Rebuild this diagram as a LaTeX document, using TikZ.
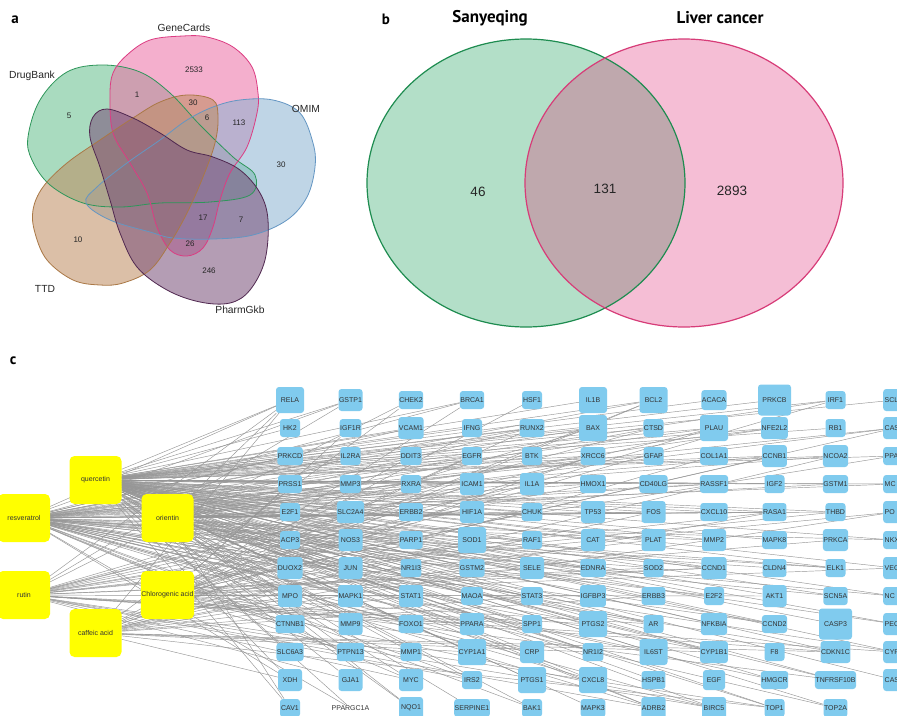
\documentclass[tikz,border=0pt]{standalone}
\usepackage{fontspec}
\setmainfont{Liberation Sans}
\newfontfamily\ptsans{PT Sans}
\usetikzlibrary{backgrounds}
\definecolor{tblue}{RGB}{128,203,238}
\definecolor{tyel}{RGB}{255,255,0}
\definecolor{tedge}{RGB}{150,150,150}
\definecolor{vaG}{RGB}{100,190,140}
\definecolor{vaP}{RGB}{235,110,165}
\definecolor{vaB}{RGB}{140,180,210}
\definecolor{vaT}{RGB}{190,140,95}
\definecolor{vaK}{RGB}{120,78,120}
\definecolor{vaGl}{RGB}{46,150,90}
\definecolor{vaPl}{RGB}{220,60,130}
\definecolor{vaBl}{RGB}{100,150,195}
\definecolor{vaTl}{RGB}{170,120,70}
\definecolor{vaKl}{RGB}{80,40,80}
\definecolor{vbG}{RGB}{179,223,200}
\definecolor{vbP}{RGB}{245,190,213}
\definecolor{vbO}{RGB}{191,168,173}
\definecolor{vbGl}{RGB}{30,140,80}
\definecolor{vbPl}{RGB}{215,60,120}
\tikzset{
  tgt/.style={rectangle, rounded corners=3pt, fill=tblue, inner sep=0.5pt,
    font=\fontsize{7}{8}\selectfont, text=black!80},
  lbl/.style={inner sep=0.5pt, font=\fontsize{7}{8}\selectfont, text=black!80},
  cmp/.style={rectangle, rounded corners=5pt, fill=tyel, minimum width=52, minimum height=48,
    inner sep=0.5pt, font=\fontsize{7}{8}\selectfont, text=black!80},
  edge/.style={draw=tedge, line width=0.45pt},
  vfill/.style={fill opacity=0.55},
  vline/.style={line width=0.8pt},
  vlab/.style={font=\fontsize{10.3}{12}\selectfont, text=black!85},
  vnum/.style={font=\fontsize{8}{9}\selectfont, text=black!85},
  panel/.style={font=\ptsans\bfseries\fontsize{15}{17}\selectfont},
  bhead/.style={font=\ptsans\bfseries\fontsize{17}{19}\selectfont},
  bnum/.style={font=\fontsize{13.5}{15}\selectfont, text=black!85},
}
\begin{document}
\begin{tikzpicture}[x=1pt,y=-1pt]
\useasboundingbox (0,0) rectangle (897,715);
\begin{pgfonlayer}{background}
\begin{scope}
\clip (0,0) rectangle (897,715);
\fill[white] (0,0) rectangle (897,715);
\end{scope}
\end{pgfonlayer}
\clip (0,0) rectangle (897,715);

% ---------------- panel a ----------------
\def\shG{plot[smooth cycle, tension=0.6] coordinates {(28,137) (40,100) (67,72) (103,65) (140,72) (170,93) (200,125) (233,157) (255,175) (250,195) (210,202) (160,203) (120,207) (83,203) (50,185) (32,160)}}
\def\shP{plot[smooth cycle, tension=0.6] coordinates {(110,97) (113,73) (127,55) (150,40) (183,36) (207,37) (233,47) (252,67) (258,93) (257,113) (247,147) (230,173) (220,200) (213,227) (203,248) (187,256) (170,250) (157,227) (147,193) (130,163) (113,133)}}
\def\shB{plot[smooth cycle, tension=0.6] coordinates {(86,203) (97,187) (127,163) (160,140) (187,120) (213,107) (240,100) (273,100) (300,113) (313,143) (315,167) (307,197) (287,220) (253,235) (213,239) (173,238) (150,232) (110,220)}}
\def\shT{plot[smooth cycle, tension=0.6] coordinates {(187,95) (213,100) (218,117) (215,143) (203,177) (187,213) (170,243) (150,270) (123,283) (100,285) (73,280) (47,260) (35,233) (33,210) (43,187) (67,163) (100,140) (133,118) (160,102)}}
\def\shK{plot[smooth cycle, tension=0.6] coordinates {(107,109) (133,118) (160,133) (187,150) (213,157) (240,170) (260,193) (268,220) (265,260) (250,290) (230,303) (200,302) (167,290) (137,267) (120,233) (110,200) (100,167) (90,137) (93,117)}}
\fill[vfill, vaG] \shG;
\fill[vfill, vaP] \shP;
\fill[vfill, vaB] \shB;
\fill[vfill, vaT] \shT;
\fill[vfill, vaK] \shK;
\draw[vline, vaGl] \shG;
\draw[vline, vaPl] \shP;
\draw[vline, vaBl] \shB;
\draw[vline, vaTl] \shT;
\draw[vline, vaKl] \shK;
\node[panel] (pa) at (15,20) {a};
\node[vlab] (la1) at (184,28) {GeneCards};
\node[vlab] (la2) at (32,76) {DrugBank};
\node[vlab] (la3) at (306,109) {OMIM};
\node[vlab] (la4) at (45,289) {TTD};
\node[vlab] (la5) at (240,310) {PharmGkb};
\node[vnum] (na1) at (194,70) {2533};
\node[vnum] (na2) at (137,95) {1};
\node[vnum] (na3) at (193,103) {30};
\node[vnum] (na4) at (207,118) {6};
\node[vnum] (na5) at (239,123) {113};
\node[vnum] (na6) at (69,116) {5};
\node[vnum] (na7) at (281,165) {30};
\node[vnum] (na8) at (203,218) {17};
\node[vnum] (na9) at (241,220) {7};
\node[vnum] (na10) at (78,240) {10};
\node[vnum] (na11) at (190,244) {26};
\node[vnum] (na12) at (209,271) {246};

% ---------------- panel b ----------------
\fill[vbG] (526,183) ellipse [x radius=159, y radius=144];
\fill[vbP] (684,183) ellipse [x radius=159, y radius=144];
\begin{scope}
\clip (526,183) ellipse [x radius=159, y radius=144];
\fill[vbO] (684,183) ellipse [x radius=159, y radius=144];
\end{scope}
\draw[vbGl, line width=1.2pt] (526,183) ellipse [x radius=159, y radius=144];
\draw[vbPl, line width=1.2pt] (684,183) ellipse [x radius=159, y radius=144];
\node[panel] (pb) at (386,19) {b};
\node[bhead] (hb1) at (490,18) {Sanyeqing};
\node[bhead] (hb2) at (720,18) {Liver cancer};
\node[bnum] (nb1) at (478,192) {46};
\node[bnum] (nb2) at (605,189) {131};
\node[bnum] (nb3) at (732,191) {2893};

% ---------------- panel c ----------------
\node[panel] (pc) at (13,361) {c};
\node[cmp] (quercetin) at (95.5,480) {quercetin};
\node[cmp] (resveratrol) at (24,518) {resveratrol};
\node[cmp] (orientin) at (167.5,518) {orientin};
\node[cmp] (rutin) at (24,595) {rutin};
\node[cmp] (chlorogenic) at (167.5,595) {Chlorogenic acid};
\node[cmp] (caffeic) at (95.5,633) {caffeic acid};

\foreach \n/\w [count=\r from 0] in {RELA/28,HK2/20,PRKCD/20,PRSS1/20,E2F1/20,ACP3/20,DUOX2/24,MPO/24,CTNNB1/20,SLC6A3/20,XDH/24,CAV1/20}
  \node[tgt, minimum width=\w, minimum height=\w-2] (t-0-\r) at (290,400+28*\r) {\n};
\foreach \n/\w [count=\r from 0] in {GSTP1/24,IGF1R/20,IL2RA/20,MMP3/20,SLC2A4/24,NOS3/24,JUN/24,MAPK1/24,MMP9/24,PTPN13/20,GJA1/24}
  \node[tgt, minimum width=\w, minimum height=\w-2] (t-1-\r) at (350.5,400+28*\r) {\n};
\node[lbl] (t-1-11) at (350.5,708) {PPARGC1A};
\foreach \n/\w [count=\r from 0] in {CHEK2/20,VCAM1/24,DDIT3/20,RXRA/20,ERBB2/20,PARP1/20,NR1I3/20,STAT1/24,FOXO1/20,MMP1/20,MYC/24,NQO1/24}
  \node[tgt, minimum width=\w, minimum height=\w-2] (t-2-\r) at (411,400+28*\r) {\n};
\foreach \n/\w [count=\r from 0] in {BRCA1/20,IFNG/20,EGFR/20,ICAM1/24,HIF1A/24,SOD1/28,GSTM2/20,MAOA/20,PPARA/24,CYP1A1/28,IRS2/20,SERPINE1/20}
  \node[tgt, minimum width=\w, minimum height=\w-2] (t-3-\r) at (472,400+28*\r) {\n};
\foreach \n/\w [count=\r from 0] in {HSF1/20,RUNX2/20,BTK/20,IL1A/24,CHUK/20,RAF1/20,SELE/24,STAT3/20,SPP1/20,CRP/24,PTGS1/28,BAK1/20}
  \node[tgt, minimum width=\w, minimum height=\w-2] (t-4-\r) at (532,400+28*\r) {\n};
\foreach \n/\w [count=\r from 0] in {IL1B/28,BAX/28,XRCC6/20,HMOX1/20,TP53/24,CAT/24,EDNRA/20,IGFBP3/24,PTGS2/28,NR1I2/20,CXCL8/28,MAPK3/20}
  \node[tgt, minimum width=\w, minimum height=\w-2] (t-5-\r) at (593,400+28*\r) {\n};
\foreach \n/\w [count=\r from 0] in {BCL2/28,CTSD/20,GFAP/20,CD40LG/20,FOS/24,PLAT/24,SOD2/20,ERBB3/20,AR/20,IL6ST/28,HSPB1/20,ADRB2/24}
  \node[tgt, minimum width=\w, minimum height=\w-2] (t-6-\r) at (653.5,400+28*\r) {\n};
\foreach \n/\w [count=\r from 0] in {ACACA/22,PLAU/28,COL1A1/20,RASSF1/20,CXCL10/20,MMP2/24,CCND1/24,E2F2/20,NFKBIA/24,CYP1B1/24,EGF/22,BIRC5/24}
  \node[tgt, minimum width=\w, minimum height=\w-2] (t-7-\r) at (714,400+28*\r) {\n};
\foreach \n/\w [count=\r from 0] in {PRKCB/33,NFE2L2/24,CCNB1/24,IGF2/20,RASA1/20,MAPK8/20,CLDN4/20,AKT1/24,CCND2/20,F8/20,HMGCR/20,TOP1/20}
  \node[tgt, minimum width=\w, minimum height=\w-2] (t-8-\r) at (774.5,400+28*\r) {\n};
\foreach \n/\w [count=\r from 0] in {IRF1/20,RB1/20,NCOA2/24,GSTM1/20,THBD/20,PRKCA/24,ELK1/20,SCN5A/20,CASP3/33,CDKN1C/24,TNFRSF10B/20,TOP2A/20}
  \node[tgt, minimum width=\w, minimum height=\w-2] (t-9-\r) at (835.5,400+28*\r) {\n};
\foreach \n/\w [count=\r from 0] in {SCL/24,CAS/24,PPA/20,MC/20,PO/24,NKX/20,VEG/24,NC/20,PEC/24,CYP/24,CAS/24} {
  \node[tgt, anchor=west, minimum width=\w, minimum height=\w-2] (t-10-\r) at (883,400+28*\r) {};
  \node[lbl, anchor=west] (l-10-\r) at (884,400+28*\r) {\n};
}

\begin{pgfonlayer}{background}
\begin{scope}
\clip (0,0) rectangle (897,715);
\foreach \cmp/\p/\o/\th in {quercetin/37/11/85, resveratrol/53/7/50, orientin/29/3/28, rutin/41/17/22, chlorogenic/61/23/22, caffeic/71/5/18} {
  \foreach \c in {0,...,10} {
    \foreach \r in {0,...,11} {
      \pgfmathtruncatemacro\hh{mod((\c*12+\r)*\p+\o,100)}
      \pgfmathtruncatemacro\ok{(\hh<\th)&&!((\c==10)&&(\r==11))}
      \ifnum\ok=1 \draw[edge] (\cmp) -- (t-\c-\r); \fi
    }
  }
}
\end{scope}
\end{pgfonlayer}
\end{tikzpicture}
\end{document}
